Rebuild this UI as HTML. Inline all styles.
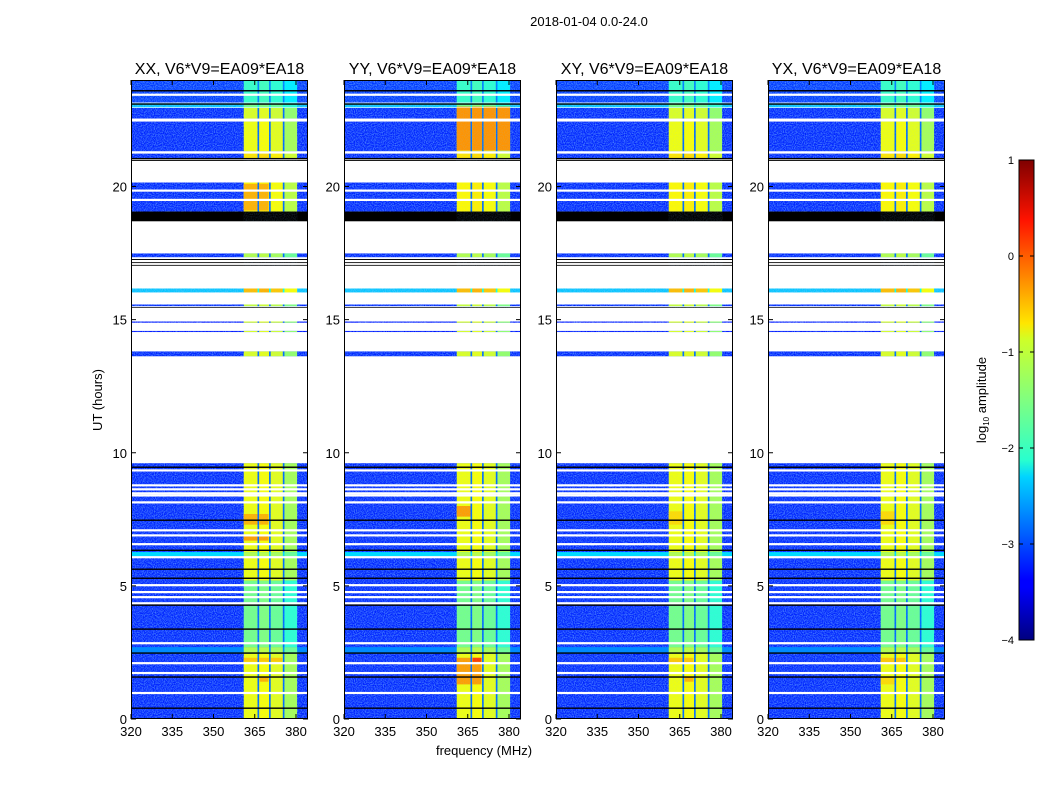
<!DOCTYPE html>
<html><head><meta charset="utf-8">
<style>
html,body{margin:0;padding:0;background:#fff;}
svg{display:block;font-family:"Liberation Sans",sans-serif;}
</style></head>
<body>
<svg id="fig" width="1050" height="800" viewBox="0 0 1050 800" xmlns="http://www.w3.org/2000/svg">
<defs>
<linearGradient id="jet" x1="0" y1="1" x2="0" y2="0">
<stop offset="0" stop-color="#00007f"/><stop offset="0.11" stop-color="#0000ff"/>
<stop offset="0.125" stop-color="#0000ff"/><stop offset="0.34" stop-color="#00d4ff"/>
<stop offset="0.375" stop-color="#29ffce"/><stop offset="0.5" stop-color="#80ff80"/>
<stop offset="0.625" stop-color="#ceff29"/><stop offset="0.66" stop-color="#ffe600"/>
<stop offset="0.875" stop-color="#ff1300"/><stop offset="1" stop-color="#7f0000"/>
</linearGradient>
<filter id="noise" x="0" y="0" width="100%" height="100%">
<feTurbulence type="fractalNoise" baseFrequency="0.9" numOctaves="1" seed="3"/>
<feColorMatrix type="matrix" values="0 0 0 0 0.2  0 0 0 0 0.55  0 0 0 0 1  0 0 0 1.4 -0.5"/>
</filter>
</defs>
<text x="589" y="26" font-size="13" text-anchor="middle">2018-01-04 0.0-24.0</text>
<text x="484" y="755" font-size="13" text-anchor="middle">frequency (MHz)</text>
<text x="0" y="0" font-size="13" text-anchor="middle" transform="translate(102,400) rotate(-90)">UT (hours)</text>
<g id="panels"></g>
<g>
<rect x="1019" y="160" width="15" height="480" fill="url(#jet)" stroke="#000" stroke-width="1"/>
<g id="cbticks"></g>
<text x="0" y="0" font-size="13" text-anchor="middle" transform="translate(986,400) rotate(-90)">log<tspan font-size="8" dy="3">10</tspan><tspan dy="-3"> amplitude</tspan></text>
</g>
</svg>
<script>
// ---- data ----
const panelTitles = ["XX, V6*V9=EA09*EA18","YY, V6*V9=EA09*EA18","XY, V6*V9=EA09*EA18","YX, V6*V9=EA09*EA18"];
const xTicks = [320,335,350,365,380];
const yTicks = [0,5,10,15,20];
const cbTicks = [1,0,-1,-2,-3,-4];
// time segments (hours): start, end, kind ('d' data, 'c' bright row, 'k' flagged black), background log-amp, band log-amp
const segStart = [23.15,22.97,22.55,21.32,21.07,20.96,19.06,18.69,17.34,17.24,17.12,17.02,16.02,15.50,15.44,14.88,14.53,13.62,0.00];
const segEnd   = [24.00,23.13,22.95,22.44,21.24,21.00,20.15,19.06,17.49,17.28,17.16,17.06,16.17,15.57,15.47,14.93,14.58,13.81,9.61];
const segKind  = ['d','c','d','d','d','k','d','k','d','k','k','k','c','d','k','d','d','d','d'];
const segBg    = [-3.1,-2.4,-3.2,-3.2,-3.2,0,-3.2,0,-3.2,0,0,0,-2.4,-3.2,0,-3.3,-3.3,-3.2,-3.2];
const segBand  = [-1.9,-1.6,-1.1,-1.0,-0.8,0,-0.9,0,-1.3,0,0,0,-0.6,-1.2,0,-1.1,-1.1,-1.1,-1.0];
// flagged lines (hours)
const whiteLines = [9.34,8.78,8.63,8.48,8.40,8.14,7.09,6.90,6.57,6.08,5.03,4.77,4.58,4.35,2.85,2.10,1.73,0.98,23.45,21.28,19.85,19.50];
const blackLines = [9.46,7.47,6.34,5.63,5.29,4.28,3.38,2.48,1.58,0.41,23.60,23.10,21.05];
const cyanRows = [[6.11,6.27,-2.3],[2.45,2.70,-2.7]];
// dim band region (hours) and its amplitude
const dimStart = 2.5, dimEnd = 5.2, dimBand = -1.6;
// band sub-blocks (MHz) and their offsets from segment band amplitude
const blockStart = [361.0,366.6,370.8,375.8];
const blockEnd   = [366.0,370.2,375.2,380.4];
const blockOffset = [0.05,0.1,0.0,-0.3];
// bright patches per panel: [panel, tStart, tEnd, fStart, fEnd, value]
const patches = [
 [0,19.1,20.1,361,370,-0.5],[0,7.3,7.7,361,370,-0.5],[0,6.7,6.9,361,370,-0.4],[0,1.4,1.6,366.8,370,-0.5],[0,2.15,2.3,361,375,-0.6],
 [1,21.35,23.0,361,380.4,-0.35],[1,7.6,8.0,361,366,-0.4],[1,1.3,2.3,361,370,-0.4],[1,2.15,2.3,366.8,370,0.1],
 [2,7.3,7.8,361,366,-0.7],[2,1.4,1.6,366.8,370,-0.5],[2,2.1,2.3,361,370,-0.6],
 [3,7.3,7.8,361,366,-0.7],[3,1.3,1.6,361,366,-0.7],[3,2.1,2.3,361,370,-0.6]
];
// ---- scales ----
const panelX = [131,344,556,768], PW = 177, PT = 80, PB = 719;
const fMin = 320;
function xs(p,f){ return panelX[p] + (f - fMin)*2.75; }
function ys(h){ return PB - h*(PB-PT)/24; }
function jet(v){
  const t = Math.max(0,Math.min(1,(v+4)/5));
  const c = x => Math.round(255*Math.max(0,Math.min(1,x)));
  return `rgb(${c(1.5-Math.abs(4*t-3))},${c(1.5-Math.abs(4*t-2))},${c(1.5-Math.abs(4*t-1))})`;
}
const NS = "http://www.w3.org/2000/svg";
function mk(tag, attrs, parent){
  const e = document.createElementNS(NS, tag);
  for (const k in attrs) e.setAttribute(k, attrs[k]);
  parent.appendChild(e); return e;
}
const root = document.getElementById('panels');
for (let p=0;p<4;p++){
  const g = mk('g',{},root);
  
  
  const x0 = panelX[p];
  const clipId='clip'+p;
  const cp = mk('clipPath',{id:clipId},g); mk('rect',{x:x0,y:PT,width:PW,height:PB-PT},cp);
  const hm = mk('g',{'clip-path':`url(#${clipId})`},g);
  
  
  function band(t0,t1,val,layer){
    for (let b=0;b<blockStart.length;b++){
      const r = mk('rect',{x:xs(p,blockStart[b]),y:ys(t1),width:(blockEnd[b]-blockStart[b])*2.75,height:ys(t0)-ys(t1),fill:jet(val+blockOffset[b])},layer);
      
      
    }
  }
  for (let i=0;i<segStart.length;i++){
    const y1 = ys(segEnd[i]), y0 = ys(segStart[i]);
    const k = segKind[i];
    const r = mk('rect',{x:x0,y:y1,width:PW,height:Math.max(1,y0-y1),fill:k==='k'?'#000':jet(segBg[i])},hm);
    
    
    if (k==='k') continue;
    const n = mk('rect',{x:x0,y:y1,width:PW,height:Math.max(1,y0-y1),filter:'url(#noise)'},hm);
    
    
    mk('rect',{x:xs(p,blockStart[0]),y:y1,width:(blockEnd[3]-blockStart[0])*2.75,height:Math.max(1,y0-y1),fill:jet(segBg[i]+0.35)},hm);
    if (segStart[i]===0){
      band(0,dimStart,segBand[i],hm);
      band(dimStart,dimEnd,dimBand,hm);
      band(dimEnd,segEnd[i],segBand[i],hm);
    } else band(segStart[i],segEnd[i],segBand[i],hm);
  }
  for (const c of cyanRows){
    const r = mk('rect',{x:x0,y:ys(c[1]),width:PW,height:ys(c[0])-ys(c[1]),fill:jet(c[2])},hm);
    
    
    band(c[0],c[1],-1.3,hm);
  }
  for (const pt of patches){
    if (pt[0]!==p) continue;
    for (let b=0;b<blockStart.length;b++){
      const f0=Math.max(pt[3],blockStart[b]), f1=Math.min(pt[4],blockEnd[b]);
      if (f1<=f0) continue;
      const r = mk('rect',{x:xs(p,f0),y:ys(pt[2]),width:(f1-f0)*2.75,height:ys(pt[1])-ys(pt[2]),fill:jet(pt[5])},hm);
      
      
    }
  }
  // noise over band too
  const bn = mk('rect',{x:xs(p,blockStart[0]),y:PT,width:(blockEnd[3]-blockStart[0])*2.75,height:PB-PT,filter:'url(#noise)',opacity:0.25},hm);
  
  
  // white gaps (unflagged areas) re-drawn
  for (let i=0;i<segStart.length-1;i++){
    const hi = segStart[i], lo = segEnd[i+1];
    if (hi-lo>0.01){
      mk('rect',{x:x0,y:ys(hi),width:PW,height:ys(lo)-ys(hi),fill:'#fff'},hm);
    }
  }
  for (const h of whiteLines){
    const l = mk('rect',{x:x0,y:ys(h)-1,width:PW,height:2.2,fill:'#fff'},hm);
    
    
  }
  for (const h of blackLines){
    const l = mk('rect',{x:x0,y:ys(h)-0.6,width:PW,height:1.4,fill:'#000'},hm);
    
    
  }
  const fr = mk('rect',{x:x0+0.5,y:PT+0.5,width:PW-1,height:PB-PT-1,fill:'none',stroke:'#000','stroke-width':1},g);
  
  
  const tt = mk('text',{x:x0+PW/2,y:PT-6,'font-size':16,'text-anchor':'middle'},g);
  tt.textContent = panelTitles[p];
  
  
  for (const f of xTicks){
    const x = xs(p,f);
    mk('line',{x1:x,y1:PB,x2:x,y2:PB-5,stroke:'#000'},g);
    mk('line',{x1:x,y1:PT,x2:x,y2:PT+5,stroke:'#000'},g);
    const t = mk('text',{x:x,y:PB+17,'font-size':13,'text-anchor':'middle'},g);
    t.textContent = f;
    
    
  }
  for (const h of yTicks){
    const y = ys(h);
    mk('line',{x1:x0,y1:y,x2:x0+5,y2:y,stroke:'#000'},g);
    mk('line',{x1:x0+PW,y1:y,x2:x0+PW-5,y2:y,stroke:'#000'},g);
    const t = mk('text',{x:x0-4,y:y+5,'font-size':13,'text-anchor':'end'},g);
    t.textContent = h;
    
    
  }
}
const cbg = document.getElementById('cbticks');
for (const v of cbTicks){
  const y = 640 - (v+4)*96;
  mk('line',{x1:1019,y1:y,x2:1023,y2:y,stroke:'#000'},cbg);
  mk('line',{x1:1034,y1:y,x2:1030,y2:y,stroke:'#000'},cbg);
  const t = mk('text',{x:1014,y:y+4,'font-size':11,'text-anchor':'end'},cbg);
  t.textContent = v<0 ? '\u2212'+(-v) : String(v);
  
  
}
</script>
</body></html>
